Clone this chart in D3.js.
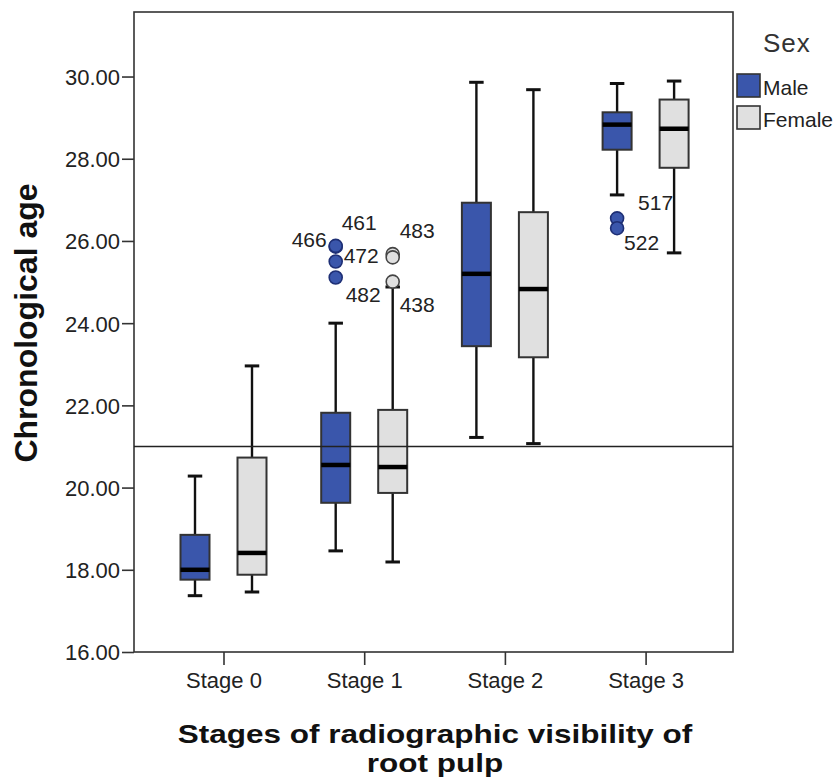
<!DOCTYPE html>
<html><head><meta charset="utf-8">
<script src="https://cdn.jsdelivr.net/npm/d3@7"></script>
<style>body{margin:0;background:#fff} text{font-family:'Liberation Sans',Arial,sans-serif}</style>
</head><body><svg id="c" width="839" height="778"></svg>
<script>
const stages = ["Stage 0","Stage 1","Stage 2","Stage 3"];
const sexes = ["Male","Female"];
const yTicks = [16,18,20,22,24,26,28,30];
const refLine = 21;
// [lower whisker, Q1, median, Q3, upper whisker] per stage
const maleStats = [[17.37,17.76,18.00,18.85,20.28],[18.46,19.63,20.55,21.82,24.00],[21.22,23.44,25.20,26.93,29.86],[27.12,28.22,28.83,29.13,29.83]];
const femaleStats = [[17.46,17.88,18.41,20.73,22.96],[18.19,19.87,20.50,21.89,24.88],[21.07,23.17,24.83,26.70,29.68],[25.71,27.78,28.73,29.44,29.89]];
const outlierStage = ["Stage 1","Stage 1","Stage 1","Stage 1","Stage 1","Stage 1","Stage 1","Stage 3","Stage 3"];
const outlierSex   = ["Male","Male","Male","Male","Female","Female","Female","Male","Male"];
const outlierValue = [25.86,25.88,25.50,25.11,25.68,25.60,25.01,26.55,26.31];
const outlierId    = ["466","461","472","482","483","","438","517","522"];

// label placement relative to point (layout, not data)
const labelOffset = {"466":[-9,0,"end"],"461":[6,-16,"start"],"472":[8,1,"start"],"482":[10,24,"start"],
  "483":[7,-16,"start"],"438":[7,30,"start"],"517":[21,-8,"start"],"522":[7,22,"start"]};

const colors = {Male:"#3a56ab", Female:"#e0e0e0"};
const svg = d3.select("#c");
const frame = {l:134, r:733, t:12, b:652};

const y = d3.scaleLinear().domain([16, 31.57]).range([frame.b, frame.t]);
const x = d3.scalePoint().domain(stages).range([223.5, 645.6]);
const xs = d3.scalePoint().domain(sexes).range([-28.5, 28.5]);
const bw = 29;

// frame
svg.append("rect").attr("x",frame.l).attr("y",frame.t).attr("width",frame.r-frame.l).attr("height",frame.b-frame.t)
  .attr("fill","#fff").attr("stroke","#333").attr("stroke-width",1.6);

// axes
const yAxis = svg.append("g").attr("transform",`translate(${frame.l},0)`)
  .call(d3.axisLeft(y).tickValues(yTicks).tickFormat(d3.format(".2f")).tickSize(12).tickPadding(2));
yAxis.select(".domain").remove();
yAxis.selectAll("line").attr("stroke","#333").attr("stroke-width",1.6);
yAxis.selectAll("text").attr("font-size",22).attr("fill","#222").attr("dy","0.36em");

const xAxis = svg.append("g").attr("transform",`translate(0,${frame.b})`)
  .call(d3.axisBottom(x).tickSize(13).tickPadding(7));
xAxis.select(".domain").remove();
xAxis.selectAll("line").attr("stroke","#333").attr("stroke-width",1.6);
xAxis.selectAll("text").attr("font-size",22).attr("fill","#222");

// boxes
const boxes = [];
stages.forEach((s,i)=>{
  boxes.push({stage:s, sex:"Male", v:maleStats[i]});
  boxes.push({stage:s, sex:"Female", v:femaleStats[i]});
});
const g = svg.append("g");
boxes.forEach(b=>{
  const cx = x(b.stage)+xs(b.sex);
  const [lo,q1,md,q3,hi] = b.v;
  g.append("line").attr("x1",cx).attr("x2",cx).attr("y1",y(hi)).attr("y2",y(lo)).attr("stroke","#111").attr("stroke-width",2.4);
  [lo,hi].forEach(w=> g.append("line").attr("x1",cx-bw/4).attr("x2",cx+bw/4).attr("y1",y(w)).attr("y2",y(w)).attr("stroke","#111").attr("stroke-width",3));
  g.append("rect").attr("x",cx-bw/2).attr("width",bw).attr("y",y(q3)).attr("height",y(q1)-y(q3))
    .attr("fill",colors[b.sex]).attr("stroke","#333").attr("stroke-width",2);
  g.append("line").attr("x1",cx-bw/2).attr("x2",cx+bw/2).attr("y1",y(md)).attr("y2",y(md)).attr("stroke","#000").attr("stroke-width",4.5);
});

// reference line
svg.append("line").attr("x1",frame.l).attr("x2",frame.r).attr("y1",y(refLine)).attr("y2",y(refLine)).attr("stroke","#222").attr("stroke-width",1.6);

// outliers
outlierValue.forEach((v,i)=>{
  const cx = x(outlierStage[i])+xs(outlierSex[i]), cy = y(v);
  svg.append("circle").attr("cx",cx).attr("cy",cy).attr("r",6.5)
    .attr("fill",colors[outlierSex[i]]).attr("stroke", outlierSex[i]==="Male" ? "#1e2f75" : "#444").attr("stroke-width",1.6);
});
outlierValue.forEach((v,i)=>{
  const id = outlierId[i]; if(!id) return;
  const cx = x(outlierStage[i])+xs(outlierSex[i]), cy = y(v);
  const o = labelOffset[id];
  svg.append("text").attr("x",cx+o[0]).attr("y",cy+o[1]).attr("text-anchor",o[2]).attr("font-size",21).attr("fill","#222").text(id);
});

// titles
svg.append("text").attr("transform","translate(37,323) rotate(-90)").attr("text-anchor","middle")
  .attr("font-size",32).attr("font-weight","bold").attr("fill","#111").text("Chronological age");
const xt = svg.append("g").attr("transform","translate(435,0) scale(1.26,1)");
xt.append("text").attr("x",0).attr("y",743).attr("text-anchor","middle").attr("font-size",25).attr("font-weight","bold").attr("fill","#111").text("Stages of radiographic visibility of");
xt.append("text").attr("x",0).attr("y",772).attr("text-anchor","middle").attr("font-size",25).attr("font-weight","bold").attr("fill","#111").text("root pulp");

// legend
const lg = svg.append("g");
lg.append("text").attr("x",763).attr("y",52).attr("font-size",26).attr("fill","#333").attr("letter-spacing",1).text("Sex");
sexes.forEach((s,i)=>{
  lg.append("rect").attr("x",737).attr("y",74+i*32).attr("width",23).attr("height",23)
    .attr("fill",colors[s]).attr("stroke","#333").attr("stroke-width",1.6);
  lg.append("text").attr("x",763).attr("y",95+i*32).attr("font-size",21).attr("fill","#222").text(s);
});
</script></body></html>
